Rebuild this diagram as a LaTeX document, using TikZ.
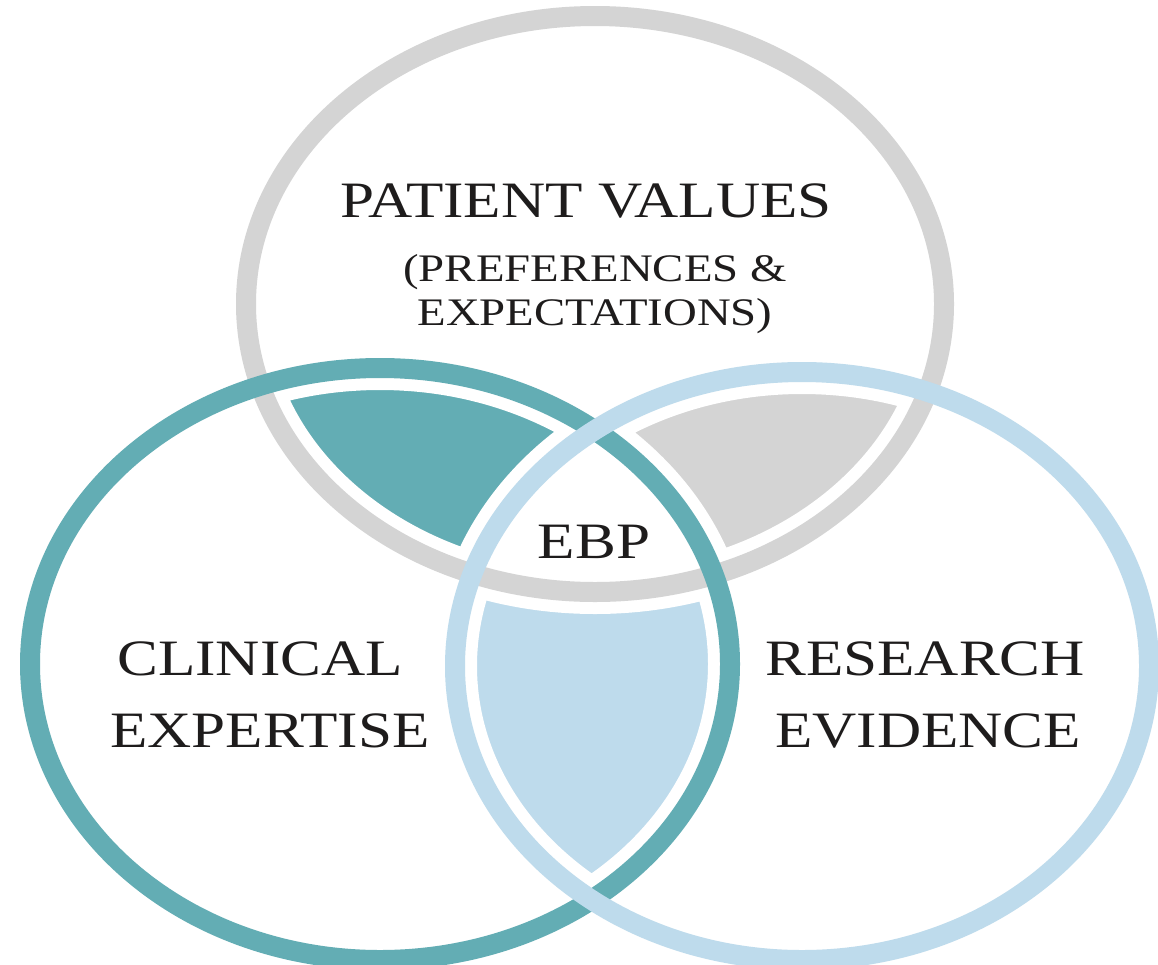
\documentclass[tikz,border=0pt]{standalone}
\usepackage{fontspec}
\setmainfont{Liberation Serif}
\definecolor{ringgray}{RGB}{212,212,212}
\definecolor{ringteal}{RGB}{99,173,180}
\definecolor{ringblue}{RGB}{190,219,236}
\definecolor{nametext}{RGB}{30,28,28}
\newcommand{\patientset}{(595,304) ellipse [x radius=349, y radius=288]}
\newcommand{\clinicalset}{(380,664) ellipse [x radius=350, y radius=296]}
\newcommand{\researchset}{(802,666) ellipse [x radius=347, y radius=294]}

\begin{document}
\begin{tikzpicture}[x=1pt,y=-1pt,
        ring/.style={line width=20pt},
        halo/.style={draw=white,line width=44pt},
        setname/.style={text=nametext,xscale=1.2,anchor=base,inner sep=0pt,
          font=\fontsize{51}{60}\selectfont},
        subname/.style={setname,font=\fontsize{39}{46}\selectfont}]

  \useasboundingbox (0,0) rectangle (1158,964);
  \clip (0,0) rectangle (1158,964);

  \begin{scope}
    \clip \patientset;
    \fill[ringteal] \clinicalset;
    \fill[ringgray] \researchset;
  \end{scope}
  \begin{scope}
    \clip \clinicalset;
    \fill[ringblue] \researchset;
  \end{scope}
  \begin{scope}
    \clip \patientset;
    \clip \clinicalset;
    \fill[white] \researchset;
  \end{scope}

  \draw[halo] \patientset \clinicalset \researchset;
  \draw[ring,ringgray] \patientset;
  \draw[ring,ringteal] \clinicalset;
  \draw[ring,ringblue] \researchset;

  \node[setname] (patient) at (586,217) {PATIENT VALUES};
  \node[subname] (prefs) at (595,281) {(PREFERENCES \&};
  \node[subname] (expect) at (595,325) {EXPECTATIONS)};
  \node[setname] (ebp) at (594,558) {EBP};
  \node[setname] (clinical) at (260,675) {CLINICAL};
  \node[setname] (expertise) at (270,747) {EXPERTISE};
  \node[setname] (research) at (925,675) {RESEARCH};
  \node[setname] (evidence) at (928,747) {EVIDENCE};

\end{tikzpicture}
\end{document}
